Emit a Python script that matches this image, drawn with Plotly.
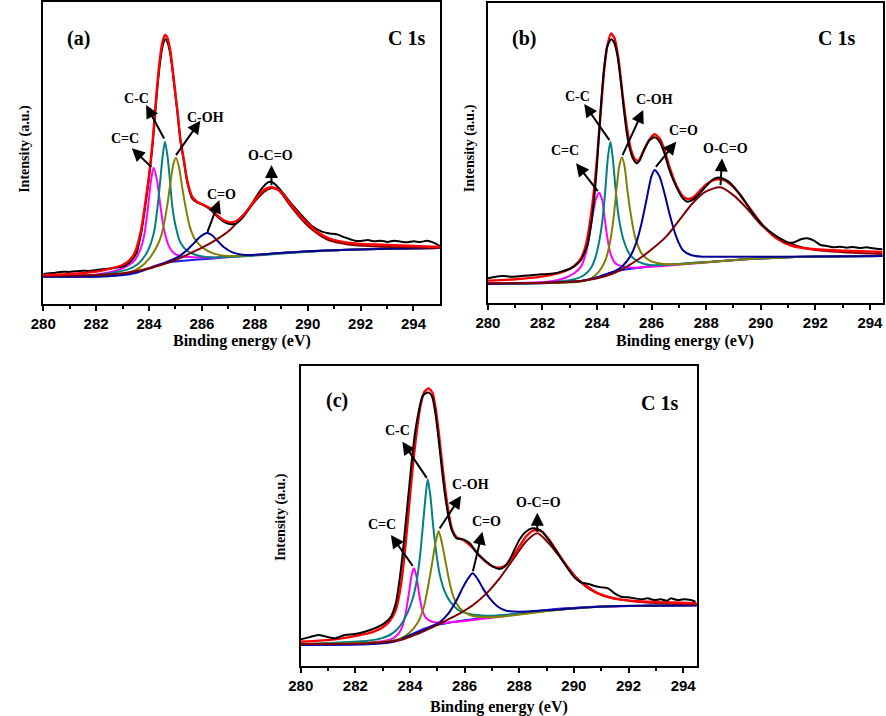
import plotly.graph_objects as go

# ---------------- Panel (a) ----------------
A_RAW_X = [280.00, 280.22, 280.47, 280.72, 280.97, 281.22, 281.47, 281.71, 281.96, 282.21, 282.46, 282.71, 282.96, 283.14, 283.33, 283.52, 283.70, 283.89, 284.01, 284.14, 284.26, 284.39, 284.51, 284.61, 284.70, 284.82, 284.94, 285.07, 285.19, 285.32, 285.44, 285.63, 285.81, 286.06, 286.31, 286.56, 286.81, 287.06, 287.30, 287.55, 287.80, 288.05, 288.30, 288.48, 288.61, 288.73, 288.92, 289.17, 289.42, 289.79, 290.16, 290.53, 290.78, 291.09, 291.40, 291.78, 292.02, 292.27, 292.52, 292.77, 293.02, 293.27, 293.52, 293.76, 294.01, 294.26, 294.51, 294.76, 295.00]
A_RAW_Y = [90, 92, 94, 97, 96, 98, 100, 99, 101, 104, 106, 109, 112, 117, 130, 152, 212, 312, 387, 482, 597, 707, 772, 794, 784, 742, 664, 577, 487, 427, 367, 317, 305, 297, 284, 264, 248, 240, 242, 260, 287, 322, 350, 364, 367, 362, 347, 322, 297, 264, 234, 217, 212, 209, 200, 190, 189, 192, 188, 190, 186, 190, 187, 185, 188, 186, 190, 184, 174]
A_FIT_X = [280.00, 280.99, 282.00, 282.58, 282.99, 283.20, 283.45, 283.70, 283.89, 284.01, 284.14, 284.26, 284.39, 284.51, 284.61, 284.70, 284.82, 284.94, 285.07, 285.19, 285.32, 285.44, 285.63, 285.81, 286.06, 286.31, 286.56, 286.81, 287.06, 287.30, 287.55, 287.80, 288.05, 288.30, 288.55, 288.67, 288.80, 289.04, 289.29, 289.66, 290.04, 290.41, 290.78, 291.28, 292.02, 293.02, 294.01, 295.00]
A_FIT_Y = [87, 90, 97, 107, 117, 127, 152, 222, 322, 392, 492, 612, 722, 787, 807, 797, 752, 672, 582, 492, 432, 372, 322, 307, 297, 287, 267, 252, 245, 249, 265, 290, 317, 340, 350, 350, 347, 332, 307, 270, 239, 214, 198, 187, 180, 177, 174, 171]
A_BG_X = [280.00, 281.96, 282.96, 283.45, 283.82, 284.13, 284.45, 284.82, 285.32, 286.31, 287.55, 288.80, 290.04, 291.28, 292.52, 293.76, 295.00]
A_BG_Y = [82, 83, 86, 92, 102, 112, 120, 126, 130, 136, 144, 152, 158, 162, 165, 167, 168]
A_CEQC_X = [280.00, 281.96, 282.83, 283.20, 283.45, 283.70, 283.83, 283.95, 284.07, 284.17, 284.30, 284.45, 284.57, 284.76, 284.94, 285.19, 285.69, 286.93, 288.17, 289.42, 290.66, 291.90, 293.14, 295.00]
A_CEQC_Y = [84, 88, 102, 115, 130, 170, 212, 282, 367, 409, 372, 282, 222, 172, 152, 144, 140, 141, 148, 155, 160, 164, 166, 168]
A_CC_X = [280.00, 281.96, 283.20, 283.58, 283.89, 284.07, 284.20, 284.32, 284.42, 284.51, 284.60, 284.70, 284.80, 284.88, 285.01, 285.19, 285.44, 285.81, 286.31, 287.55, 288.80, 290.04, 291.28, 293.14, 295.00]
A_CC_Y = [83, 86, 104, 120, 150, 182, 220, 290, 367, 440, 487, 442, 362, 292, 232, 184, 160, 146, 140, 143, 150, 157, 162, 166, 168]
A_COH_X = [280.00, 281.96, 283.33, 283.70, 284.01, 284.26, 284.45, 284.57, 284.70, 284.82, 284.92, 285.02, 285.13, 285.25, 285.38, 285.54, 285.75, 286.06, 286.43, 286.93, 288.17, 289.42, 291.28, 293.14, 295.00]
A_COH_Y = [83, 85, 97, 112, 137, 167, 202, 242, 302, 370, 420, 439, 412, 352, 292, 232, 192, 167, 152, 144, 148, 155, 162, 166, 168]
A_CO_X = [280.00, 282.58, 283.83, 284.45, 284.94, 285.19, 285.44, 285.69, 285.94, 286.19, 286.37, 286.56, 286.81, 287.18, 287.68, 288.80, 290.04, 291.28, 293.14, 295.00]
A_CO_Y = [82, 84, 102, 119, 135, 146, 162, 182, 202, 213, 207, 192, 172, 154, 147, 152, 158, 162, 166, 168]
A_OCO_X = [280.00, 281.96, 283.20, 283.83, 284.45, 285.07, 285.69, 286.31, 287.06, 287.55, 288.05, 288.36, 288.63, 288.92, 289.29, 289.66, 290.04, 290.41, 290.78, 291.28, 291.78, 292.77, 293.76, 295.00]
A_OCO_Y = [85, 87, 94, 104, 117, 134, 157, 182, 222, 265, 312, 337, 347, 340, 300, 264, 232, 209, 192, 182, 176, 172, 170, 168]

# ---------------- Panel (b) ----------------
B_RAW_X = [280.00, 280.28, 280.52, 280.88, 281.24, 281.60, 281.96, 282.20, 282.56, 282.80, 283.04, 283.23, 283.41, 283.53, 283.65, 283.77, 283.89, 284.01, 284.13, 284.25, 284.37, 284.51, 284.61, 284.73, 284.85, 284.97, 285.09, 285.21, 285.33, 285.45, 285.57, 285.75, 285.93, 286.11, 286.29, 286.47, 286.65, 286.90, 287.14, 287.32, 287.50, 287.74, 287.98, 288.22, 288.40, 288.58, 288.82, 289.06, 289.30, 289.54, 289.78, 290.02, 290.26, 290.51, 290.75, 290.99, 291.23, 291.47, 291.71, 291.95, 292.19, 292.43, 292.67, 292.91, 293.15, 293.39, 293.63, 293.87, 294.12, 294.46]
B_RAW_Y = [75, 80, 82, 80, 82, 84, 87, 88, 92, 98, 105, 115, 130, 150, 175, 230, 310, 430, 580, 700, 770, 792, 785, 750, 680, 590, 510, 460, 432, 420, 430, 465, 490, 498, 485, 450, 400, 350, 315, 305, 310, 328, 350, 370, 377, 375, 365, 345, 320, 290, 262, 238, 220, 205, 192, 182, 183, 192, 195, 188, 175, 172, 168, 170, 167, 169, 166, 168, 165, 162]
B_FIT_X = [280.00, 281.00, 281.96, 282.56, 282.92, 283.16, 283.41, 283.59, 283.77, 283.95, 284.13, 284.25, 284.37, 284.51, 284.64, 284.79, 284.93, 285.09, 285.23, 285.39, 285.51, 285.69, 285.87, 286.11, 286.29, 286.47, 286.65, 286.90, 287.14, 287.32, 287.50, 287.74, 287.98, 288.22, 288.46, 288.70, 288.94, 289.18, 289.42, 289.78, 290.14, 290.63, 291.11, 291.59, 292.43, 293.63, 294.46]
B_FIT_Y = [68, 72, 80, 90, 100, 112, 135, 175, 260, 390, 570, 690, 770, 810, 795, 730, 630, 530, 465, 432, 428, 455, 485, 507, 495, 460, 410, 355, 322, 313, 317, 335, 355, 368, 372, 368, 353, 332, 305, 265, 227, 192, 173, 165, 160, 156, 154]
B_BG_X = [280.00, 282.20, 283.41, 283.89, 284.25, 284.61, 285.09, 285.81, 287.02, 288.22, 289.42, 290.63, 291.83, 293.03, 294.46]
B_BG_Y = [58, 61, 67, 75, 85, 95, 102, 110, 118, 125, 132, 137, 140, 141, 142]
B_CEQC_X = [280.00, 282.20, 282.80, 283.16, 283.41, 283.59, 283.71, 283.83, 283.95, 284.07, 284.19, 284.27, 284.37, 284.49, 284.67, 284.97, 285.45, 286.41, 287.62, 289.42, 290.63, 291.83, 294.46]
B_CEQC_Y = [60, 65, 75, 90, 110, 150, 200, 260, 310, 332, 310, 260, 200, 150, 120, 110, 107, 112, 120, 132, 137, 140, 142]
B_CC_X = [280.00, 282.20, 283.16, 283.53, 283.77, 283.95, 284.13, 284.25, 284.33, 284.40, 284.49, 284.57, 284.67, 284.79, 284.97, 285.21, 285.51, 285.93, 287.02, 288.22, 289.42, 290.63, 291.83, 294.46]
B_CC_Y = [59, 62, 72, 85, 105, 140, 210, 290, 370, 440, 485, 440, 350, 260, 190, 145, 125, 115, 118, 125, 132, 137, 140, 142]
B_COH_X = [280.00, 283.41, 283.77, 284.07, 284.31, 284.49, 284.61, 284.71, 284.81, 284.91, 285.01, 285.11, 285.23, 285.39, 285.63, 285.93, 286.41, 287.26, 288.22, 289.42, 290.63, 291.83, 294.46]
B_COH_Y = [59, 65, 75, 95, 130, 190, 260, 340, 410, 438, 410, 340, 270, 200, 150, 128, 118, 118, 125, 132, 137, 140, 142]
B_CO_X = [280.00, 283.41, 283.89, 284.25, 284.61, 284.91, 285.21, 285.45, 285.63, 285.81, 285.99, 286.11, 286.29, 286.47, 286.65, 286.90, 287.14, 287.44, 287.86, 288.82, 290.63, 294.46]
B_CO_Y = [58, 67, 75, 85, 95, 110, 140, 185, 240, 310, 380, 400, 380, 330, 270, 200, 160, 145, 140, 140, 140, 142]
B_OCO_X = [280.00, 282.20, 283.41, 284.01, 284.61, 285.09, 285.57, 286.05, 286.53, 287.02, 287.50, 287.98, 288.52, 289.06, 289.54, 290.02, 290.63, 291.23, 291.83, 293.03, 294.46]
B_OCO_Y = [60, 62, 67, 75, 90, 110, 135, 165, 200, 250, 300, 335, 348, 320, 280, 235, 198, 175, 162, 153, 148]

# ---------------- Panel (c) ----------------
C_RAW_X = [280.00, 280.29, 280.65, 280.95, 281.25, 281.61, 281.98, 282.34, 282.70, 283.06, 283.30, 283.48, 283.60, 283.72, 283.84, 283.96, 284.08, 284.20, 284.33, 284.45, 284.57, 284.69, 284.81, 284.93, 285.05, 285.17, 285.29, 285.41, 285.53, 285.71, 285.95, 286.19, 286.37, 286.55, 286.80, 287.04, 287.28, 287.46, 287.64, 287.82, 288.00, 288.24, 288.48, 288.66, 288.84, 289.08, 289.33, 289.57, 289.81, 290.05, 290.29, 290.53, 290.77, 291.01, 291.25, 291.49, 291.73, 291.98, 292.22, 292.46, 292.70, 292.94, 293.18, 293.42, 293.54, 293.78, 294.02, 294.27, 294.45]
C_RAW_Y = [79, 85, 92, 87, 82, 92, 95, 102, 112, 127, 147, 187, 247, 327, 427, 527, 627, 707, 767, 807, 817, 819, 807, 757, 677, 587, 507, 447, 407, 382, 379, 367, 347, 329, 312, 297, 290, 297, 317, 347, 377, 402, 412, 410, 402, 377, 347, 317, 287, 262, 249, 245, 239, 235, 232, 217, 207, 205, 202, 199, 202, 197, 199, 195, 202, 197, 199, 197, 192]
C_FIT_X = [280.00, 281.25, 282.46, 282.94, 283.24, 283.48, 283.66, 283.78, 283.90, 284.02, 284.14, 284.27, 284.39, 284.53, 284.69, 284.83, 284.95, 285.07, 285.19, 285.31, 285.43, 285.55, 285.71, 285.95, 286.19, 286.37, 286.55, 286.80, 287.04, 287.28, 287.52, 287.76, 288.00, 288.24, 288.48, 288.66, 288.84, 289.08, 289.33, 289.57, 289.81, 290.05, 290.29, 290.59, 290.89, 291.49, 292.10, 292.70, 293.30, 293.90, 294.50]
C_FIT_Y = [72, 79, 97, 112, 132, 167, 237, 317, 417, 527, 627, 717, 782, 822, 832, 817, 767, 687, 597, 517, 452, 407, 385, 377, 362, 347, 330, 310, 297, 294, 302, 327, 357, 387, 404, 407, 402, 379, 349, 319, 292, 267, 249, 232, 217, 202, 195, 192, 190, 189, 187]
C_BG_X = [280.00, 282.46, 283.42, 283.90, 284.27, 284.63, 285.11, 286.07, 287.28, 288.48, 289.69, 290.89, 292.10, 293.30, 294.50]
C_BG_Y = [62, 64, 72, 87, 102, 114, 124, 137, 149, 162, 172, 177, 179, 180, 181]
C_CEQC_X = [280.00, 281.86, 282.82, 283.30, 283.54, 283.72, 283.84, 283.96, 284.05, 284.14, 284.24, 284.33, 284.45, 284.60, 284.81, 285.23, 286.07, 287.28, 288.48, 289.69, 290.89, 294.50]
C_CEQC_Y = [65, 67, 72, 79, 92, 117, 157, 217, 267, 292, 267, 217, 167, 142, 132, 129, 135, 147, 161, 171, 177, 181]
C_CC_X = [280.00, 281.25, 282.46, 282.94, 283.36, 283.66, 283.90, 284.12, 284.27, 284.39, 284.48, 284.57, 284.65, 284.75, 284.84, 284.95, 285.08, 285.25, 285.47, 285.77, 286.19, 286.80, 287.88, 289.08, 290.89, 294.50]
C_CC_Y = [65, 69, 75, 82, 97, 122, 157, 207, 267, 347, 427, 507, 559, 507, 427, 347, 277, 227, 192, 167, 155, 150, 155, 165, 177, 181]
C_COH_X = [280.00, 281.86, 283.06, 283.66, 283.96, 284.27, 284.51, 284.66, 284.81, 284.93, 285.05, 285.17, 285.29, 285.43, 285.59, 285.83, 286.19, 286.80, 287.88, 289.08, 290.89, 294.50]
C_COH_Y = [65, 67, 72, 82, 97, 127, 177, 237, 307, 367, 404, 367, 317, 257, 207, 172, 152, 145, 152, 165, 177, 181]
C_CO_X = [280.00, 283.06, 283.66, 284.02, 284.39, 284.75, 285.11, 285.41, 285.71, 285.95, 286.13, 286.29, 286.46, 286.67, 286.92, 287.22, 287.52, 288.00, 289.08, 290.89, 294.50]
C_CO_Y = [62, 69, 79, 92, 102, 117, 132, 157, 197, 237, 262, 277, 262, 232, 202, 177, 165, 162, 167, 177, 181]
C_OCO_X = [280.00, 282.46, 283.66, 284.27, 284.87, 285.35, 285.83, 286.31, 286.80, 287.28, 287.76, 288.24, 288.66, 289.08, 289.57, 290.05, 290.53, 291.01, 291.61, 292.34, 293.30, 294.50]
C_OCO_Y = [65, 67, 77, 95, 117, 137, 157, 182, 217, 262, 317, 372, 397, 367, 317, 267, 232, 212, 199, 192, 187, 184]

# ---------------- Labels ----------------
PEAK_NAMES = ["C-C", "C=C", "C-OH", "C=O", "O-C=O"]
A_LABEL_X = [283.52, 283.08, 286.12, 286.75, 288.58]
A_LABEL_Y = [617, 497, 560, 330, 447]
A_HEAD_X = [283.89, 283.35, 285.94, 286.66, 288.63]
A_HEAD_Y = [597, 467, 550, 312, 417]
A_TAIL_X = [284.60, 284.14, 284.98, 286.19, 288.63]
A_TAIL_Y = [492, 407, 442, 212, 352]

B_LABEL_X = [283.29, 282.83, 286.11, 287.16, 288.72]
B_LABEL_Y = [620, 458, 610, 517, 463]
B_HEAD_X = [283.53, 283.23, 285.69, 286.90, 288.58]
B_HEAD_Y = [598, 420, 580, 485, 435]
B_TAIL_X = [284.49, 284.07, 284.91, 286.11, 288.52]
B_TAIL_Y = [485, 332, 440, 405, 350]

C_LABEL_X = [283.54, 282.98, 286.22, 286.80, 288.70]
C_LABEL_Y = [707, 424, 544, 432, 490]
C_HEAD_X = [283.72, 283.30, 285.87, 286.65, 288.66]
C_HEAD_Y = [672, 392, 510, 402, 459]
C_TAIL_X = [284.65, 284.14, 285.05, 286.29, 288.66]
C_TAIL_Y = [559, 295, 407, 279, 397]

PANEL_TAGS = ["(a)", "(b)", "(c)"]
TAG_X = [281.34, 281.34, 281.34]
TAG_Y = [797, 795, 797]
C1S_X = [293.74, 292.77, 293.14]
C1S_Y = [797, 795, 789]

X_TICKS = [280, 282, 284, 286, 288, 290, 292, 294]
X_MINOR = [281, 283, 285, 287, 289, 291, 293]

SERIF = "Liberation Serif, Times New Roman, serif"
SANS = "Liberation Sans, Arial, sans-serif"

COL = dict(raw="#000000", fit="#FF0000", bg="#1C1CF0", ceqc="#FF00FF",
           cc="#008080", coh="#808000", co="#000099", oco="#800000")

fig = go.Figure()


def add_panel(ax, curves, raw_on_top):
    xa = "x" if ax == 1 else f"x{ax}"
    ya = "y" if ax == 1 else f"y{ax}"
    order = ["bg", "ceqc", "cc", "coh", "co", "oco"]
    for key in order:
        xs, ys = curves[key]
        fig.add_trace(go.Scatter(x=xs, y=ys, mode="lines", xaxis=xa, yaxis=ya,
                                 line=dict(color=COL[key], width=2, shape="spline", smoothing=0.7),
                                 showlegend=False, hoverinfo="skip"))
    top = ["fit", "raw"] if raw_on_top else ["raw", "fit"]
    for key in top:
        xs, ys = curves[key]
        fig.add_trace(go.Scatter(x=xs, y=ys, mode="lines", xaxis=xa, yaxis=ya,
                                 line=dict(color=COL[key], width=2.4 if key == "fit" else 2,
                                           shape="spline", smoothing=0.6),
                                 showlegend=False, hoverinfo="skip"))


add_panel(1, dict(raw=(A_RAW_X, A_RAW_Y), fit=(A_FIT_X, A_FIT_Y), bg=(A_BG_X, A_BG_Y),
                  ceqc=(A_CEQC_X, A_CEQC_Y), cc=(A_CC_X, A_CC_Y), coh=(A_COH_X, A_COH_Y),
                  co=(A_CO_X, A_CO_Y), oco=(A_OCO_X, A_OCO_Y)), raw_on_top=False)
add_panel(2, dict(raw=(B_RAW_X, B_RAW_Y), fit=(B_FIT_X, B_FIT_Y), bg=(B_BG_X, B_BG_Y),
                  ceqc=(B_CEQC_X, B_CEQC_Y), cc=(B_CC_X, B_CC_Y), coh=(B_COH_X, B_COH_Y),
                  co=(B_CO_X, B_CO_Y), oco=(B_OCO_X, B_OCO_Y)), raw_on_top=True)
add_panel(3, dict(raw=(C_RAW_X, C_RAW_Y), fit=(C_FIT_X, C_FIT_Y), bg=(C_BG_X, C_BG_Y),
                  ceqc=(C_CEQC_X, C_CEQC_Y), cc=(C_CC_X, C_CC_Y), coh=(C_COH_X, C_COH_Y),
                  co=(C_CO_X, C_CO_Y), oco=(C_OCO_X, C_OCO_Y)), raw_on_top=True)

W, H = 886, 716
domains = {
    1: dict(x=[30.7 / W, 433.3 / W], y=[1 - 304 / H, 1 - 2 / H], xr=[280, 295], yr=[0, 906]),
    2: dict(x=[482 / W, 882.7 / W], y=[1 - 303.3 / H, 1 - 3 / H], xr=[280, 294.47], yr=[0, 901]),
    3: dict(x=[292 / W, 694 / W], y=[1 - 665.7 / H, 1 - 366 / H], xr=[280, 294.5], yr=[0, 899]),
}

layout = dict(width=W, height=H, margin=dict(l=0, r=0, t=0, b=0),
              paper_bgcolor="white", plot_bgcolor="white", showlegend=False)
for i, d in domains.items():
    xk = "xaxis" if i == 1 else f"xaxis{i}"
    yk = "yaxis" if i == 1 else f"yaxis{i}"
    ya = "y" if i == 1 else f"y{i}"
    xa = "x" if i == 1 else f"x{i}"
    layout[xk] = dict(domain=d["x"], range=d["xr"], anchor=ya, showline=True, mirror=True,
                      linecolor="black", linewidth=2, ticks="outside", ticklen=5, tickwidth=2,
                      tickcolor="black", tickvals=X_TICKS, ticktext=[str(t) for t in X_TICKS],
                      tickfont=dict(family=SANS, size=15, color="black", weight="bold"),
                      showgrid=False, zeroline=False,
                      minor=dict(tickvals=X_MINOR, ticks="outside",
                                 ticklen=3, tickwidth=1.5, tickcolor="black", showgrid=False))
    layout[yk] = dict(domain=d["y"], range=d["yr"], anchor=xa, showline=True, mirror=True,
                      linecolor="black", linewidth=2, ticks="", showticklabels=False,
                      showgrid=False, zeroline=False)
fig.update_layout(**layout)

anns = []
# axis titles (paper coords)
for cx, cy in [(232, 341), (682, 341), (493, 707)]:
    anns.append(dict(x=cx / W, y=1 - cy / H, xref="paper", yref="paper", text="<b>Binding energy (eV)</b>",
                     showarrow=False, font=dict(family=SERIF, size=16, color="black"),
                     xanchor="center", yanchor="middle"))
for cx, cy in [(12, 149), (464, 148), (272, 517)]:
    anns.append(dict(x=cx / W, y=1 - cy / H, xref="paper", yref="paper", text="<b>Intensity (a.u.)</b>",
                     showarrow=False, textangle=-90, font=dict(family=SERIF, size=14, color="black"),
                     xanchor="center", yanchor="middle"))

panels = [
    (1, A_LABEL_X, A_LABEL_Y, A_HEAD_X, A_HEAD_Y, A_TAIL_X, A_TAIL_Y),
    (2, B_LABEL_X, B_LABEL_Y, B_HEAD_X, B_HEAD_Y, B_TAIL_X, B_TAIL_Y),
    (3, C_LABEL_X, C_LABEL_Y, C_HEAD_X, C_HEAD_Y, C_TAIL_X, C_TAIL_Y),
]
for idx, (i, lx, ly, hx, hy, tx, ty) in enumerate(panels):
    xa = "x" if i == 1 else f"x{i}"
    ya = "y" if i == 1 else f"y{i}"
    anns.append(dict(x=TAG_X[idx], y=TAG_Y[idx], xref=xa, yref=ya, text=f"<b>{PANEL_TAGS[idx]}</b>",
                     showarrow=False, font=dict(family=SERIF, size=20, color="black")))
    anns.append(dict(x=C1S_X[idx], y=C1S_Y[idx], xref=xa, yref=ya, text="<b>C 1s</b>",
                     showarrow=False, font=dict(family=SERIF, size=20, color="black")))
    for k, name in enumerate(PEAK_NAMES):
        anns.append(dict(x=lx[k], y=ly[k], xref=xa, yref=ya, text=f"<b>{name}</b>", showarrow=False,
                         font=dict(family=SERIF, size=14, color="black")))
        anns.append(dict(x=hx[k], y=hy[k], xref=xa, yref=ya, ax=tx[k], ay=ty[k], axref=xa, ayref=ya,
                         text="", showarrow=True, arrowhead=2, arrowsize=1.3, arrowwidth=2,
                         arrowcolor="black", standoff=0, startstandoff=0))
fig.update_layout(annotations=anns)

fig.write_html("out.html")
